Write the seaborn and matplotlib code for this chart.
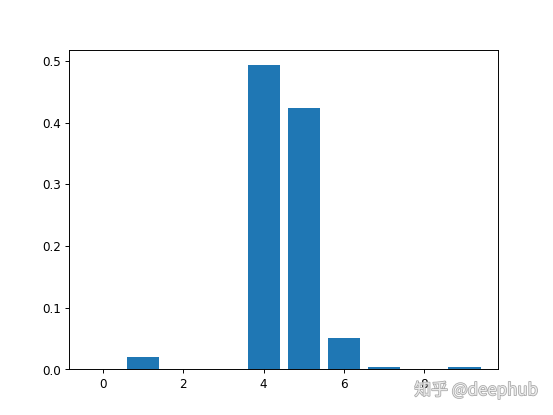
import matplotlib
matplotlib.use("Agg")
import matplotlib.pyplot as plt
import matplotlib.patheffects as pe
import seaborn as sns
import pandas as pd

classes = [0, 1, 2, 3, 4, 5, 6, 7, 8, 9]
probs = [0.0, 0.0195, 0.0, 0.0, 0.4935, 0.4235, 0.0505, 0.0035, 0.0, 0.004]

df = pd.DataFrame({"cls": classes, "prob": probs})

fig, ax = plt.subplots(figsize=(6.4, 4.8), dpi=86.5)
sns.barplot(data=df, x="cls", y="prob", native_scale=True, color="#1f77b4",
            saturation=1, linewidth=0, width=0.8, ax=ax, errorbar=None)
ax.set_xlabel("")
ax.set_ylabel("")
ax.set_xlim(-0.84, 9.84)
ax.set_ylim(0, max(probs) * 1.05)
ax.set_xticks([0, 2, 4, 6, 8])
ax.set_yticks([0.0, 0.1, 0.2, 0.3, 0.4, 0.5])

fig.text(0.972, 0.06, "知乎 @deephub", ha="right", va="center", fontsize=14,
         color="#ececec", family=["Noto Sans CJK SC", "DejaVu Sans"],
         path_effects=[pe.withStroke(linewidth=1.3, foreground="#a8a8a8")])

fig.savefig("out.png", dpi=86.5)
